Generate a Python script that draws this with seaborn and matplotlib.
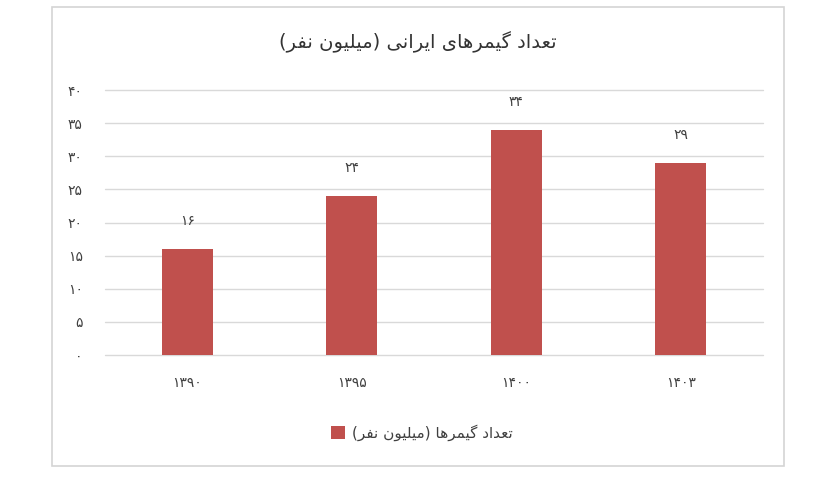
import matplotlib
matplotlib.use("Agg")
import matplotlib.pyplot as plt
import matplotlib.patches as mpatches
import seaborn as sns
import pandas as pd

# ---- data ----
years = ["۱۳۹۰", "۱۳۹۵", "۱۴۰۰", "۱۴۰۳"]
gamers = [16, 24, 34, 29]
yticks = [0, 5, 10, 15, 20, 25, 30, 35, 40]
title_text = "تعداد گیمرهای ایرانی (میلیون نفر)"
series_name = "تعداد گیمرها (میلیون نفر)"

# ---- minimal Persian shaping (matplotlib has no bidi / joining) ----
FORMS = {
    'ا': ('\uFE8D', '\uFE8E', None, None),
    'د': ('\uFEA9', '\uFEAA', None, None),
    'ر': ('\uFEAD', '\uFEAE', None, None),
    'و': ('\uFEED', '\uFEEE', None, None),
    'ت': ('\uFE95', '\uFE96', '\uFE97', '\uFE98'),
    'ع': ('\uFEC9', '\uFECA', '\uFECB', '\uFECC'),
    'م': ('\uFEE1', '\uFEE2', '\uFEE3', '\uFEE4'),
    'ه': ('\uFEE9', '\uFEEA', '\uFEEB', '\uFEEC'),
    'ل': ('\uFEDD', '\uFEDE', '\uFEDF', '\uFEE0'),
    'ن': ('\uFEE5', '\uFEE6', '\uFEE7', '\uFEE8'),
    'ف': ('\uFED1', '\uFED2', '\uFED3', '\uFED4'),
    'گ': ('\uFB92', '\uFB93', '\uFB94', '\uFB95'),
    'ی': ('\uFBFC', '\uFBFD', '\uFBFE', '\uFBFF'),
}
RIGHT_ONLY = set('ادروزذژ')


def fa(text):
    out = []
    n = len(text)
    for i, c in enumerate(text):
        if c not in FORMS:
            out.append(c)
            continue
        prev = text[i - 1] if i > 0 else None
        nxt = text[i + 1] if i + 1 < n else None
        jp = prev in FORMS and prev not in RIGHT_ONLY
        jn = nxt in FORMS and c not in RIGHT_ONLY
        iso, fin, ini, med = FORMS[c]
        if jp and jn:
            g = med
        elif jp:
            g = fin
        elif jn:
            g = ini
        else:
            g = iso
        out.append(g)
    s = ''.join(out)[::-1]
    return s.translate(str.maketrans('()', ')('))


def fa_num(v):
    return str(v).translate(str.maketrans('0123456789', '۰۱۲۳۴۵۶۷۸۹'))


sns.set_theme(style="white")
plt.rcParams['font.family'] = ['DejaVu Sans']

W, H = 828, 483
fig = plt.figure(figsize=(W / 100, H / 100), dpi=100)
fig.patch.set_facecolor("white")

# outer chart border
fig.patches.append(mpatches.Rectangle((52 / W, 1 - 466 / H), (784 - 52) / W, (466 - 7) / H,
                                      transform=fig.transFigure, fill=False,
                                      edgecolor="#D4D4D4", linewidth=1.2))

ax = fig.add_axes([105 / W, 1 - 355 / H, (763 - 105) / W, (355 - 90) / H])

df = pd.DataFrame({"year": years, "value": gamers})
bar_color = "#C0504D"
sns.barplot(data=df, x="year", y="value", order=years, color=bar_color,
            width=0.31, saturation=1, ax=ax, zorder=3, edgecolor="none")

ax.set_ylim(0, 40)
ax.set_xlim(-0.5, len(years) - 0.5)
ax.set_yticks(yticks)
ax.set_yticklabels([fa_num(t) for t in yticks])
ax.set_xticks(range(len(years)))
ax.set_xticklabels(years)
ax.set_xlabel("")
ax.set_ylabel("")
ax.tick_params(axis="y", length=0, pad=16, labelsize=10, labelcolor="#404040")
ax.tick_params(axis="x", length=0, pad=15, labelsize=10, labelcolor="#404040")
for sp in ax.spines.values():
    sp.set_visible(False)
ax.yaxis.grid(True, color="#D9D9D9", linewidth=1.0, zorder=0)
ax.set_axisbelow(True)
for gl in ax.get_ygridlines():
    gl.set_clip_on(False)

for i, v in enumerate(gamers):
    ax.annotate(fa_num(v), (i, v), xytext=(0, 15), textcoords="offset points",
                ha="center", va="bottom", fontsize=10, color="#404040")

fig.text(418 / W, 1 - 42 / H, fa(title_text), ha="center", va="center",
         fontsize=14, color="#333333")

handle = mpatches.Patch(facecolor=bar_color, edgecolor="none")
fig.legend([handle], [fa(series_name)], loc="center", bbox_to_anchor=(422 / W, 1 - 433 / H),
           frameon=False, fontsize=11, handlelength=0.9, handleheight=0.9,
           handletextpad=0.5, labelcolor="#404040")

fig.savefig("out.png", dpi=100, facecolor="white")
